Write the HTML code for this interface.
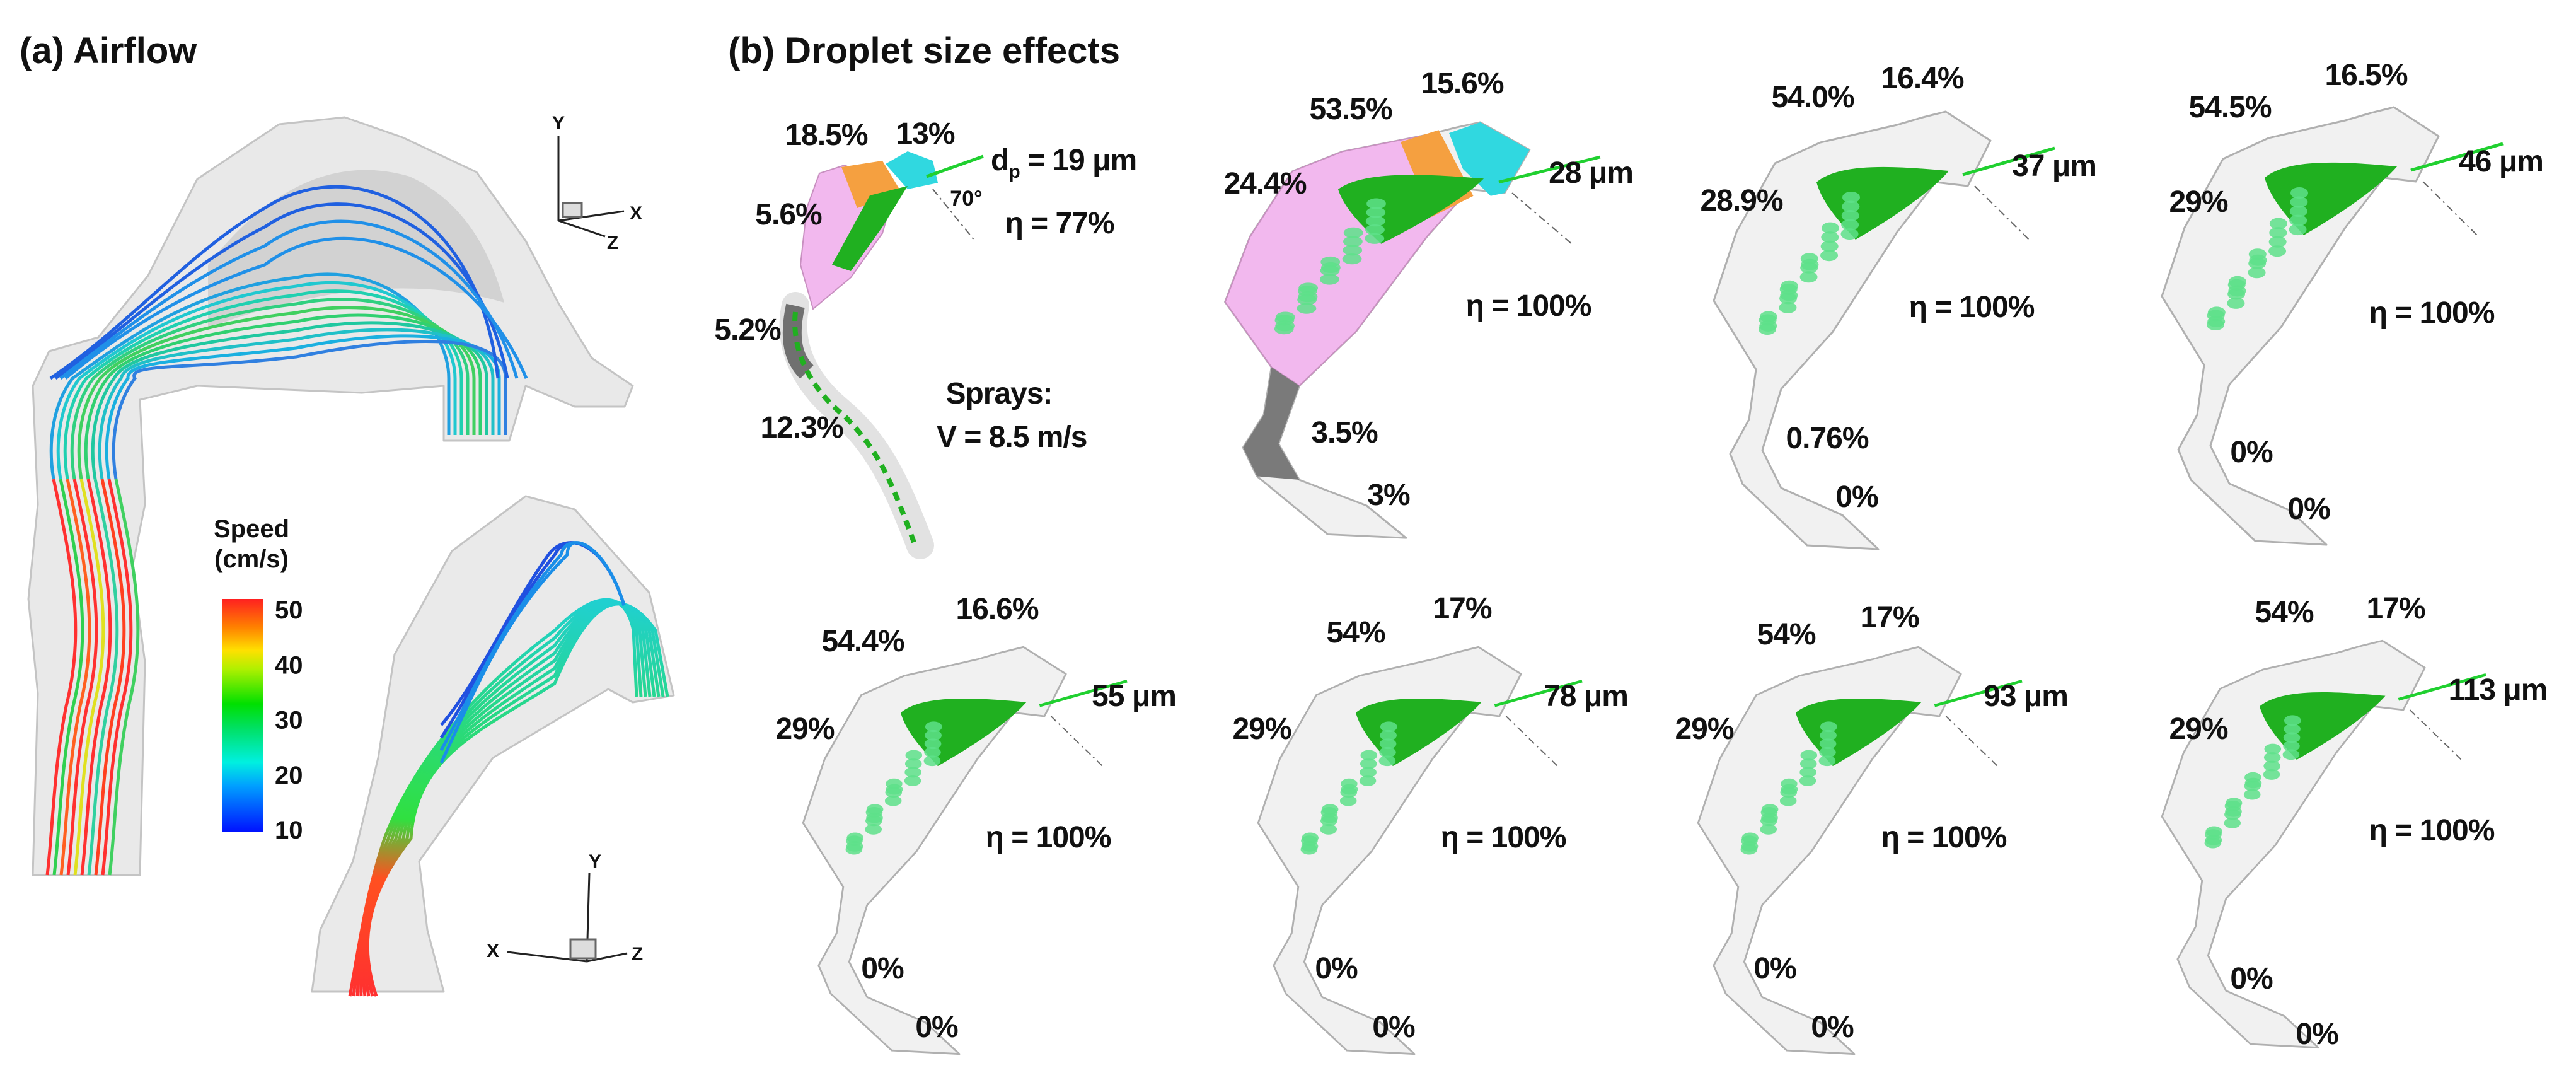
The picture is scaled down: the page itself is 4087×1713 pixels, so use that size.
<!DOCTYPE html>
<html><head><meta charset="utf-8"><style>
html,body{margin:0;padding:0;background:#fff}
svg{display:block}
text{font-family:"Liberation Sans",Arial,sans-serif;font-weight:bold;fill:#111}
</style></head><body>
<svg id="fig" width="4087" height="1713" viewBox="0 0 4087 1713" xmlns="http://www.w3.org/2000/svg">
<defs>
<linearGradient id="cbar" x1="0" y1="1" x2="0" y2="0">
<stop offset="0" stop-color="#0010ff"/><stop offset="0.2" stop-color="#00a0ff"/><stop offset="0.3" stop-color="#00f0e0"/><stop offset="0.45" stop-color="#00e060"/><stop offset="0.55" stop-color="#00e000"/><stop offset="0.7" stop-color="#b0f000"/><stop offset="0.78" stop-color="#ffe000"/><stop offset="0.88" stop-color="#ff8000"/><stop offset="1" stop-color="#ff2020"/>
</linearGradient>
<linearGradient id="tube2G" x1="0" y1="1" x2="0" y2="0">
<stop offset="0" stop-color="#ff3030"/><stop offset="0.3" stop-color="#ff5020"/><stop offset="0.45" stop-color="#30e040"/><stop offset="1" stop-color="#20d0d0"/>
</linearGradient>
</defs>

<text x="31" y="100" font-size="58">(a) Airflow</text>
<text x="1155" y="100" font-size="58">(b) Droplet size effects</text>

<g>
<path d="M156,535 L235,437 L313,284 L443,197 L547,186 L639,218 L756,273 L834,382 L886,481 L939,568 L1004,612 L991,645 L912,645 L834,612 L808,699 L704,699 L704,612 L574,623 L313,612 L222,634 L230,800 L210,900 L230,1050 L222,1388 L52,1388 L60,1100 L45,950 L60,800 L52,612 L78,557 Z" fill="#dadada" fill-opacity="0.6" stroke="#c4c4c4" stroke-width="3" stroke-linejoin="round"/>
<path d="M330,420 Q480,230 650,280 Q760,330 800,480 Q600,420 330,520 Z" fill="#a8a8a8" fill-opacity="0.35"/>
<g id="streamsA" fill="none" stroke-width="5"></g>
</g>

<g>
<path d="M834,787 L912,808 L1030,940 L1069,1103 L1004,1114 L965,1093 L782,1202 L665,1366 L678,1475 L704,1573 L495,1573 L508,1475 L560,1366 L600,1202 L626,1038 L717,874 Z" fill="#dcdcdc" fill-opacity="0.6" stroke="#c4c4c4" stroke-width="3" stroke-linejoin="round"/>
<g id="streamsB" fill="none" stroke-width="5"></g>
</g>

<g>
<text x="399" y="852" font-size="40" text-anchor="middle">Speed</text>
<text x="399" y="900" font-size="40" text-anchor="middle">(cm/s)</text>
<rect x="352" y="950" width="65" height="370" fill="url(#cbar)"/>
<g id="cbTicks"></g>
</g>

<g stroke="#222" stroke-width="3" fill="none">
<line x1="886" y1="215" x2="886" y2="350"/><line x1="886" y1="350" x2="990" y2="335"/><line x1="886" y1="350" x2="960" y2="375"/>
<rect x="893" y="322" width="30" height="22" fill="#ddd" stroke="#666"/>
</g>
<text x="886" y="205" font-size="30" text-anchor="middle">Y</text>
<text x="1009" y="348" font-size="30" text-anchor="middle">X</text>
<text x="972" y="395" font-size="30" text-anchor="middle">Z</text>
<g stroke="#222" stroke-width="3" fill="none">
<line x1="935" y1="1385" x2="931" y2="1525"/><line x1="931" y1="1525" x2="805" y2="1510"/><line x1="931" y1="1525" x2="995" y2="1512"/>
<rect x="905" y="1490" width="40" height="30" fill="#ddd" stroke="#666"/>
</g>
<text x="944" y="1376" font-size="30" text-anchor="middle">Y</text>
<text x="782" y="1518" font-size="30" text-anchor="middle">X</text>
<text x="1011" y="1523" font-size="30" text-anchor="middle">Z</text>

<g id="panelsB"></g>
<g id="labelsB"></g>
</svg>

<script>
const NS="http://www.w3.org/2000/svg";
function mk(tag,attrs,parent){const e=document.createElementNS(NS,tag);for(const k in attrs)e.setAttribute(k,attrs[k]);parent.appendChild(e);return e;}

const cbTickValues=[10,20,30,40,50];
const cbMin=10, cbMax=50;
const cbY=v=>1316-(v-cbMin)/(cbMax-cbMin)*(1316-967);
const cbG=document.getElementById('cbTicks');
cbTickValues.forEach(v=>{
  const t=mk('text',{x:436,y:cbY(v)+14,'font-size':40},cbG);
  
  
  t.textContent=v;
});

const sA=document.getElementById('streamsA');
const arcCols=['#20a0e0','#20c8d0','#20d0b0','#30d080','#40d060','#30d070','#20c8a0','#20c0c8','#1ab0e0','#3080e0'];
const tubeCols=['#ff3030','#30d050','#ff6020','#ff3030','#e0e020','#ff3030','#30d0a0','#ff4020','#ff3030','#40d060'];
for(let i=0;i<10;i++){
  const sx=712+i*10, top=440+i*14, lx=75+i*11;
  const p=mk('path',{d:`M${sx},690 L${sx},600 C${sx},520 ${620},${top-30} ${470},${top} C${300},${top+20} ${200},${540+i*4} ${lx+40},${600} C${lx+10},640 ${lx},700 ${lx+10},760`,stroke:arcCols[i]},sA);
  
  
  const q=mk('path',{d:`M${lx+10},760 C${lx+40},900 ${lx+60},1000 ${lx+30},1120 C${lx+10},1220 ${lx+10},1300 ${lx},1388`,stroke:tubeCols[i]},sA);
  
  
}
for(let i=0;i<4;i++){
  const p=mk('path',{d:`M${790+i*15},600 C${760},${330+i*30} ${560},${240+i*25} ${420},${330+i*30} C${300},${400+i*20} ${200},${520} ${80+i*8},${600}`,stroke:i<2?'#2060e0':'#2090e8'},sA);
  
  
}

const sB=document.getElementById('streamsB');
for(let i=0;i<8;i++){
  const p=mk('path',{d:`M${1010+i*7},1105 L${1005+i*5},1000 C${990},${930} ${940},${940} ${880},${1000+i*12} C${760},${1090+i*10} ${660},${1200} ${610+i*6},${1330} C${580},${1420} ${570},${1500} ${555+i*6},1580`,stroke:'url(#tube2G)'},sB);
  
  
}
for(let i=0;i<4;i++){
  const p=mk('path',{d:`M${990},${960} C${960},${860} ${900},${840} ${870+i*10},${880} C${800},${980} ${760},${1080} ${700},${1150+i*20}`,stroke:i<2?'#2050e0':'#1a8ee8'},sB);
  
  
}

const tpl="M0,0 L36,-72 L-35,-118 L-71,-109 L-112,-97 L-234,-69 L-306,-36 L-367,73 L-403,182 L-336,291 L-347,370 L-377,425 L-357,473 L-255,570 L-142,576 L-199,522 L-296,479 L-326,419 L-296,322 L-214,231 L-112,73 L-51,-6 Z";
const bodyP="M-51,-6 L-112,-97 L-234,-69 L-306,-36 L-367,73 L-403,182 L-336,291 L-296,322 L-214,231 L-112,73 Z";
const panelTipX=[2387,3122,3833,1657,2379,3077,3813];
const panelTipY=[306,295,288,1136,1136,1136,1126];
const panelSX=[1.1,1,1,0.95,0.95,0.95,0.95];
const panelSY=[0.95,1,1,0.93,0.93,0.93,0.93];
const pB=document.getElementById('panelsB');
for(let k=0;k<panelTipX.length;k++){
  const g=mk('g',{transform:`translate(${panelTipX[k]},${panelTipY[k]}) scale(${panelSX[k]},${panelSY[k]})`},pB);
  
  
  const shape=mk('path',{d:tpl,fill:'#f1f1f1',stroke:'#b0b0b0','stroke-width':3,'stroke-linejoin':'round'},g);
  
  
  if(k===0){
    mk('path',{d:bodyP,fill:'#f2b8ee',stroke:'#c890c0','stroke-width':2},g);
    mk('path',{d:'M-150,-85 L-95,-105 L-45,5 L-105,40 Z',fill:'#f5a040'},g);
    mk('path',{d:'M0,0 L36,-72 L-35,-118 L-80,-100 L-60,-40 L-20,5 Z',fill:'#30d8e0'},g);
    mk('path',{d:'M-336,291 L-296,322 L-326,419 L-296,479 L-357,473 L-377,425 L-347,370 Z',fill:'#7a7a7a'},g);
  }
  const dk=mk('path',{d:'M-240,-6 C-200,-40 -100,-30 -30,-24 C-50,0 -100,40 -178,85 C-200,60 -230,30 -240,-6 Z',fill:'#20b020'},g);
  
  
  for(let j=0;j<22;j++){
    const t=j/21;
    const d=mk('ellipse',{cx:-170-t*160+((j*37)%30-15),cy:30+t*200+((j*53)%24-12),rx:14,ry:9,fill:'#5ee08a','fill-opacity':0.85},g);
    
    
  }
  const sp=mk('line',{x1:-8,y1:-18,x2:138,y2:-60,stroke:'#20d030','stroke-width':5},g);
  
  
  mk('line',{x1:11,y1:0,x2:97,y2:85,stroke:'#666','stroke-width':2,'stroke-dasharray':'12 6 3 6'},g);
}
const c1=mk('g',{},pB);


mk('path',{d:'M1262,485 C1250,540 1270,600 1330,650 C1390,700 1420,760 1460,865',fill:'none',stroke:'#e2e2e2','stroke-width':44,'stroke-linecap':'round'},c1);
mk('path',{d:'M1262,485 C1250,540 1260,570 1280,590',fill:'none',stroke:'#707070','stroke-width':30},c1);
mk('path',{d:'M1300,275 L1340,262 L1420,300 L1400,370 L1350,440 L1290,490 L1270,420 L1280,330 Z',fill:'#f2b8ee',stroke:'#c890c0','stroke-width':2},c1);
mk('path',{d:'M1335,265 L1400,255 L1430,305 L1360,330 Z',fill:'#f5a040'},c1);
mk('path',{d:'M1405,260 L1440,240 L1480,255 L1488,290 L1440,300 Z',fill:'#30d8e0'},c1);
mk('path',{d:'M1380,310 L1440,295 L1400,360 L1350,430 L1320,420 Z',fill:'#20b020'},c1);
mk('path',{d:'M1262,495 C1255,560 1290,620 1340,660 C1400,720 1420,780 1450,860',fill:'none',stroke:'#20b020','stroke-width':8,'stroke-dasharray':'14 10'},c1);
mk('line',{x1:1470,y1:280,x2:1560,y2:248,stroke:'#20d030','stroke-width':5},c1);
mk('line',{x1:1480,y1:300,x2:1545,y2:380,stroke:'#666','stroke-width':2,'stroke-dasharray':'12 6 3 6'},c1);

const labelText=["18.5%","13%","5.6%","5.2%","12.3%","η = 77%","Sprays:",
"53.5%","15.6%","24.4%","28 μm","η = 100%","3.5%","3%",
"54.0%","16.4%","28.9%","37 μm","η = 100%","0.76%","0%",
"54.5%","16.5%","29%","46 μm","η = 100%","0%","0%",
"54.4%","16.6%","29%","55 μm","η = 100%","0%","0%",
"54%","17%","29%","78 μm","η = 100%","0%","0%",
"54%","17%","29%","93 μm","η = 100%","0%","0%",
"54%","17%","29%","113 μm","η = 100%","0%","0%"];
const labelX=[1311,1468,1251,1186,1272,1681,1585,
2143,2320,2007,2524,2425,2133,2203,
2876,3050,2763,3259,3128,2899,2946,
3538,3754,3488,3968,3858,3572,3663,
1369,1582,1277,1799,1663,1400,1486,
2151,2320,2002,2516,2385,2120,2211,
2834,2998,2704,3214,3084,2816,2907,
3624,3801,3488,3963,3858,3572,3676];
const labelY=[213,211,339,522,677,353,623,
172,131,290,273,484,685,784,
153,123,317,262,486,694,787,
169,118,319,255,495,716,806,
1016,965,1155,1103,1327,1535,1628,
1002,964,1155,1103,1327,1535,1628,
1005,978,1155,1103,1327,1535,1628,
970,964,1155,1093,1316,1551,1639];
const lB=document.getElementById('labelsB');
for(let i=0;i<labelText.length;i++){
  const t=mk('text',{x:labelX[i],y:labelY[i]+17,'font-size':48,'text-anchor':'middle','letter-spacing':'-1'},lB);
  
  
  t.textContent=labelText[i];
}
const dp=mk('text',{x:1572,y:270,'font-size':48,'letter-spacing':'-1'},lB);


dp.innerHTML='d<tspan font-size="30" dy="12">p</tspan><tspan dy="-12"> = 19 μm</tspan>';
const vv=mk('text',{x:1486,y:709,'font-size':48,'letter-spacing':'-1'},lB);


vv.textContent='V = 8.5 m/s';
const ang=mk('text',{x:1533,y:326,'font-size':34,'text-anchor':'middle'},lB);


ang.textContent='70°';
</script>
</body></html>
